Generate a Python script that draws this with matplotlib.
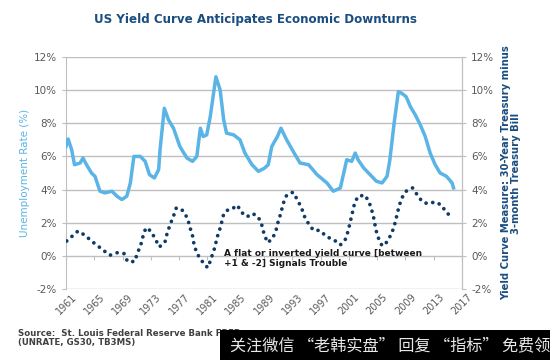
import matplotlib
matplotlib.use('Agg')
import matplotlib.pyplot as plt
import numpy as np
from matplotlib.ticker import FuncFormatter

# unemployment rate (%) (x in axis-label years)
unemp_year = [1961.0, 1961.3, 1961.8, 1962.2, 1963.0, 1963.4, 1963.9, 1964.6, 1965.1, 1965.8,
              1966.5, 1967.5, 1968.2, 1968.9, 1969.6, 1970.1, 1970.6, 1971.5, 1972.2, 1972.8,
              1973.5, 1974.1, 1974.3, 1974.9, 1975.5, 1976.2, 1977.1, 1978.1, 1978.9, 1979.5,
              1980.0, 1980.4, 1980.9, 1981.4, 1982.2, 1982.8, 1983.3, 1983.7, 1984.7, 1985.6,
              1986.3, 1987.3, 1988.2, 1989.1, 1989.6, 1990.1, 1990.9, 1991.4, 1992.2, 1993.4,
              1994.1, 1995.3, 1996.5, 1997.9, 1998.8, 1999.8, 2000.7, 2001.4, 2001.9, 2002.3,
              2003.1, 2004.0, 2004.9, 2005.7, 2006.4, 2006.8, 2007.4, 2008.0, 2008.5, 2009.1,
              2009.7, 2010.4, 2011.1, 2011.8, 2012.5, 2013.2, 2013.9, 2014.8, 2015.6, 2015.8]
unemp_rate = [6.6, 7.05, 6.4, 5.5, 5.6, 5.9, 5.5, 5.0, 4.8, 3.9,
              3.8, 3.9, 3.6, 3.4, 3.6, 4.4, 6.0, 6.0, 5.7, 4.9,
              4.7, 5.2, 6.4, 8.9, 8.2, 7.7, 6.6, 5.9, 5.7, 6.0,
              7.7, 7.2, 7.3, 8.4, 10.8, 10.0, 8.2, 7.4, 7.3, 7.0,
              6.2, 5.5, 5.1, 5.3, 5.5, 6.6, 7.2, 7.7, 7.0, 6.1,
              5.6, 5.5, 4.9, 4.4, 3.9, 4.1, 5.8, 5.7, 6.2, 5.8,
              5.3, 4.9, 4.5, 4.4, 4.8, 5.8, 8.0, 9.9, 9.8, 9.6,
              9.0, 8.5, 7.9, 7.2, 6.2, 5.5, 5.0, 4.8, 4.4, 4.1]

# 30-year treasury minus 3-month bill (%)
spread_year = [1961.1, 1961.9, 1962.7, 1963.7, 1964.6, 1965.5, 1966.4, 1967.2, 1968.3, 1969.2,
               1969.7, 1970.7, 1971.1, 1971.6, 1971.9, 1972.3, 1973.0, 1973.6, 1974.2, 1975.0,
               1975.3, 1975.7, 1976.2, 1976.6, 1977.5, 1978.2, 1978.5, 1978.9, 1979.1, 1979.5,
               1980.05, 1980.7, 1981.1, 1981.5, 1981.9, 1982.2, 1982.5, 1982.9, 1983.2, 1983.7,
               1984.4, 1985.2, 1985.9, 1986.6, 1987.4, 1988.2, 1988.7, 1989.0, 1989.5, 1990.2,
               1990.7, 1991.0, 1991.4, 1991.7, 1992.2, 1993.1, 1993.7, 1994.3, 1994.7, 1995.3,
               1996.0, 1996.9, 1997.9, 1998.8, 1999.8, 2000.5, 2000.9, 2001.2, 2001.5, 2001.8,
               2002.3, 2003.3, 2003.9, 2004.3, 2004.6, 2004.8, 2005.2, 2005.7, 2006.4, 2007.1,
               2007.5, 2007.8, 2008.1, 2008.5, 2009.1, 2010.0, 2010.7, 2011.4, 2012.2, 2013.2,
               2014.1, 2014.8, 2015.8]
spread = [0.9, 1.2, 1.5, 1.24, 0.9, 0.6, 0.3, 0.04, 0.2, 0.14,
          -0.34, -0.34, 0.16, 0.7, 1.2, 1.7, 1.5, 1.04, 0.54, 0.84,
          1.36, 1.86, 2.4, 2.9, 2.74, 2.26, 1.76, 1.2, 0.7, 0.16,
          -0.2, -0.6, -0.7, -0.16, 0.3, 0.8, 1.3, 1.8, 2.4, 2.74,
          2.8, 3.06, 2.6, 2.36, 2.56, 2.34, 1.84, 1.34, 0.8, 1.04,
          1.54, 2.06, 2.6, 3.14, 3.66, 3.84, 3.4, 2.9, 2.4, 1.94,
          1.54, 1.54, 1.14, 1.0, 0.66, 1.0, 1.5, 2.06, 2.6, 3.16,
          3.6, 3.66, 3.2, 2.66, 2.14, 1.6, 1.06, 0.6, 0.84, 1.4,
          1.94, 2.46, 3.0, 3.5, 3.9, 4.1, 3.66, 3.26, 3.14, 3.26,
          3.06, 2.6, 2.3]

tick_years = list(range(1961, 2018, 4))
y_ticks = [-2, 0, 2, 4, 6, 8, 10, 12]

light_blue = '#5ab4e6'
navy = '#0f3b66'
title_blue = '#1b4d80'
gray = '#595959'
grid_gray = '#bfbfbf'

fig = plt.figure(figsize=(5.5, 3.6), dpi=100)
ax = fig.add_axes([0.12, 0.197, 0.72, 0.645])

ax.plot(unemp_year, unemp_rate, color=light_blue, lw=2.5, solid_joinstyle='round', zorder=3)
ax.plot(spread_year, spread, color=navy, lw=2.7, linestyle=(0, (0.01, 1.85)),
        dash_capstyle='round', zorder=3)

ax.set_xlim(1961, 2017)
ax.set_ylim(-2, 12)
ax.set_yticks(y_ticks)
ax.yaxis.set_major_formatter(FuncFormatter(lambda v, p: '%d%%' % v))
for y in y_ticks:
    ax.axhline(y, color=grid_gray, lw=1.0, zorder=1)
ax.vlines(tick_years, -0.22, 0, color=grid_gray, lw=0.8, zorder=1)

ax.set_xticks(tick_years)
ax.set_xticklabels([str(t) for t in tick_years], rotation=45, ha='center')
ax.tick_params(axis='x', length=0, pad=2, labelsize=7, labelcolor=gray)
ax.tick_params(axis='y', length=3, color=grid_gray, labelsize=7.5, labelcolor=gray)
for s in ['top', 'bottom']:
    ax.spines[s].set_visible(False)
ax.spines['left'].set_color(grid_gray)
ax.spines['right'].set_color(grid_gray)
ax.set_ylabel('Unemployment Rate (%)', color=light_blue, fontsize=7.5, labelpad=3)

ax2 = ax.twinx()
ax2.set_ylim(-2, 12)
ax2.set_yticks(y_ticks)
ax2.yaxis.set_major_formatter(FuncFormatter(lambda v, p: '%d%%' % v))
ax2.tick_params(axis='y', length=3, color=grid_gray, labelsize=7.5, labelcolor=gray)
for s in ['top', 'bottom', 'left']:
    ax2.spines[s].set_visible(False)
ax2.spines['right'].set_color(grid_gray)
ax2.set_ylabel('Yield Curve Measure: 30-Year Treasury minus\n3-month Treasury Bill',
               color=title_blue, fontsize=7.2, fontweight='bold', labelpad=5, linespacing=1.0)

ax.text(1983.3, 0.4, 'A flat or inverted yield curve [between\n+1 & -2] Signals Trouble',
        fontsize=6.5, fontweight='bold', color='#1a1a1a', va='top', ha='left',
        linespacing=1.05, zorder=4)

fig.text(0.465, 0.945, 'US Yield Curve Anticipates Economic Downturns', ha='center', va='center',
         fontsize=8.6, fontweight='bold', color=title_blue)

fig.text(0.033, 0.035, 'Source:  St. Louis Federal Reserve Bank FRED\n(UNRATE, GS30, TB3MS)',
         fontsize=6.2, fontweight='bold', color='#404040', ha='left', va='bottom', linespacing=1.1)

# black watermark banner at the bottom right (the reference shows it cut after 领)
fig.patches.append(plt.Rectangle((0.4, 0.0), 0.6, 0.083, transform=fig.transFigure,
                                 facecolor='black', edgecolor='none', zorder=5))
fig.text(0.418, 0.04, '关注微信 “老韩实盘” 回复 “指标” 免费领', color='#e8e8e8', fontsize=11.6,
         family=['Noto Sans CJK SC', 'DejaVu Sans'], ha='left', va='center', zorder=6)

fig.savefig('out.png', dpi=100)
